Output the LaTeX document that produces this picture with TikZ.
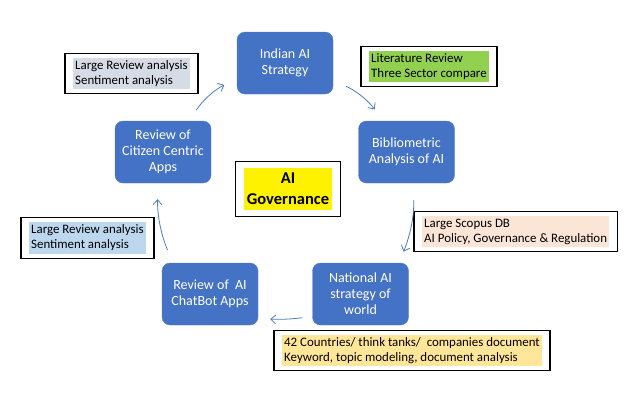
\documentclass[tikz,border=0pt]{standalone}
\usepackage{fontspec}
\setmainfont{Carlito}
\usetikzlibrary{arrows.meta,fit}
\definecolor{boxblue}{HTML}{4472C4}
\definecolor{arrowblue}{HTML}{4A7EBB}
\definecolor{notegrey}{HTML}{D6DCE5}
\definecolor{notegreen}{HTML}{92D050}
\definecolor{noteblue}{HTML}{BDD7EE}
\definecolor{notepeach}{HTML}{FBE5D6}
\definecolor{notegold}{HTML}{FFE699}
\begin{document}
\begin{tikzpicture}[x=1pt,y=-1pt,font=\fontsize{12.9}{15}\selectfont, cycle arrow/.style={draw=arrowblue, line width=0.8, -{Straight Barb[length=5,width=9]}}]
      \tikzstyle{step node}=[rectangle,rounded corners=8,draw=boxblue!90!white,fill=boxblue,text=white,minimum width=96,minimum height=62,align=center,font=\fontsize{14}{16}\selectfont]
      \tikzstyle{note text}=[anchor=west,align=left,inner xsep=2,inner ysep=2.5,text=black]
      \tikzstyle{note frame}=[draw=black,line width=1.2,inner xsep=8,inner ysep=4.5]
      
      \useasboundingbox (0,0) rectangle (636,400);
      \fill[white] (0,0) rectangle (636,400);
      
      % centre
      \node(0)[fill=yellow,minimum width=88,minimum height=42,align=center,inner sep=1,font=\bfseries\fontsize{16.5}{21}\selectfont] at (288,189) {AI\\Governance};
      \node(0f)[note frame,inner xsep=8,inner ysep=6,fit=(0)]{};
      
      % cycle steps
      \node(1)[step node] at (285,63) {Indian AI\\Strategy};
      \node(2)[step node] at (406.5,152) {Bibliometric\\Analysis of AI};
      \node(3)[step node] at (360.5,294) {National AI\\strategy of\\world};
      \node(4)[step node] at (210,294) {Review of\ \ AI\\ChatBot Apps};
      \node(5)[step node] at (163,152) {Review of\\Citizen Centric\\Apps};
      
      % notes
      \node(1n)[note text,fill=notegrey] at (73,73.5) {Large Review analysis\\Sentiment analysis};
      \node(1f)[note frame,fit=(1n)]{};
      \node(2n)[note text,fill=notegreen] at (369,66.5) {Literature Review\\Three Sector compare};
      \node(2f)[note frame,fit=(2n)]{};
      \node(3n)[note text,fill=notepeach] at (422,231.5) {Large Scopus DB\\AI Policy, Governance \& Regulation};
      \node(3f)[note frame,fit=(3n)]{};
      \node(4n)[note text,fill=notegold] at (282,350.5) {42 Countries/ think tanks/\ \ companies document\\Keyword, topic modeling, document analysis};
      \node(4f)[note frame,fit=(4n)]{};
      \node(5n)[note text,fill=noteblue] at (29,238) {Large Review analysis\\Sentiment analysis};
      \node(5f)[note frame,fit=(5n)]{};
      
      % arrows round the cycle
      \draw[cycle arrow,shorten <=13,shorten >=14] (5.50) to[bend left=15] (1.198);
      \draw[cycle arrow,shorten <=14,shorten >=14] (1.340) to[bend left=15] (2.127);
      \draw[cycle arrow,shorten <=17,shorten >=12] (2.-78) to[bend left=12] (3.39);
      \draw[cycle arrow,shorten <=10,shorten >=12] (3.205) to[bend left=5] (4.-27);
      \draw[cycle arrow,shorten <=14,shorten >=16] (4.140) to[bend left=12] (5.261);
    \end{tikzpicture}
\end{document}
